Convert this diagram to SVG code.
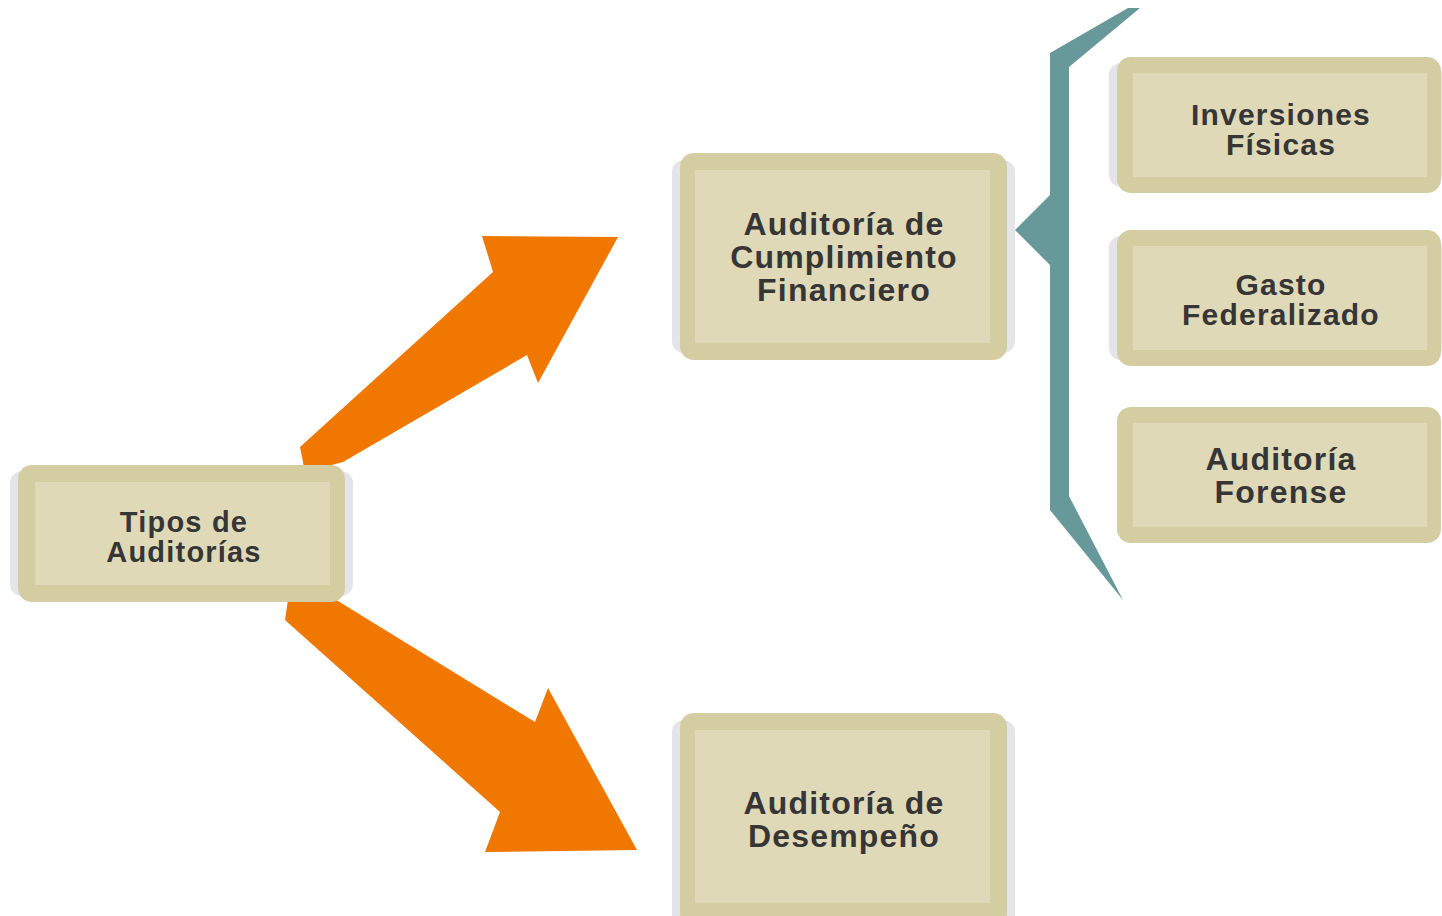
<svg xmlns="http://www.w3.org/2000/svg" width="1442" height="916" viewBox="0 0 1442 916">
<style>
.sh{fill:#e3e5e8}
.out{fill:#d5cda2}
.in{fill:#e0d9b7}
.t{font-family:"Liberation Sans",Arial,sans-serif;font-weight:bold;fill:#363636;text-anchor:middle;letter-spacing:1.2px}
.arrow{fill:#f07700}
.brace{fill:#68999a}
</style>
<rect width="1442" height="916" fill="#ffffff"/>
<g id="connectors">
<polygon class="arrow" points="300,447 493,272 482,236 618,237 538,383 527,355 343,462 305,472"/>
<polygon class="arrow" points="288,600 333,598 535,722 548,688 637,850 485,852 500,812 285,620"/>
<polygon class="brace" points="1128,8 1140,8 1069,67 1069,496 1123,600 1050,510 1050,265 1015,230 1050,195 1050,53"/>
</g>
<g id="n-tipos">
<rect class="sh" x="10" y="471" width="343" height="125" rx="12"/>
<rect class="out" x="18" y="465" width="327" height="137" rx="14"/>
<rect class="in" x="35" y="482" width="295" height="103"/>
<text class="t" x="184" y="532" font-size="29">Tipos de</text>
<text class="t" x="184" y="562" font-size="29">Auditorías</text>
</g>
<g id="n-cumplimiento">
<rect class="sh" x="672" y="160" width="343" height="193" rx="12"/>
<rect class="out" x="680" y="153" width="327" height="207" rx="14"/>
<rect class="in" x="695" y="170" width="295" height="173"/>
<text class="t" x="844" y="235" font-size="32">Auditoría de</text>
<text class="t" x="844" y="268" font-size="32">Cumplimiento</text>
<text class="t" x="844" y="301" font-size="32">Financiero</text>
</g>
<g id="n-desempeno">
<rect class="sh" x="672" y="720" width="343" height="210" rx="12"/>
<rect class="out" x="680" y="713" width="327" height="215" rx="14"/>
<rect class="in" x="695" y="730" width="295" height="173"/>
<text class="t" x="844" y="814" font-size="32">Auditoría de</text>
<text class="t" x="844" y="847" font-size="32">Desempeño</text>
</g>
<g id="n-inversiones">
<rect class="sh" x="1109" y="63" width="333" height="124" rx="12"/>
<rect class="out" x="1117" y="57" width="324" height="136" rx="14"/>
<rect class="in" x="1133" y="73" width="294" height="104"/>
<text class="t" x="1281" y="125" font-size="30">Inversiones</text>
<text class="t" x="1281" y="155" font-size="30">Físicas</text>
</g>
<g id="n-gasto">
<rect class="sh" x="1109" y="236" width="333" height="124" rx="12"/>
<rect class="out" x="1117" y="230" width="324" height="136" rx="14"/>
<rect class="in" x="1133" y="246" width="294" height="104"/>
<text class="t" x="1281" y="295" font-size="30">Gasto</text>
<text class="t" x="1281" y="325" font-size="30">Federalizado</text>
</g>
<g id="n-forense">
<rect class="out" x="1117" y="407" width="324" height="136" rx="14"/>
<rect class="in" x="1133" y="423" width="294" height="104"/>
<text class="t" x="1281" y="470" font-size="32">Auditoría</text>
<text class="t" x="1281" y="503" font-size="32">Forense</text>
</g>
</svg>
